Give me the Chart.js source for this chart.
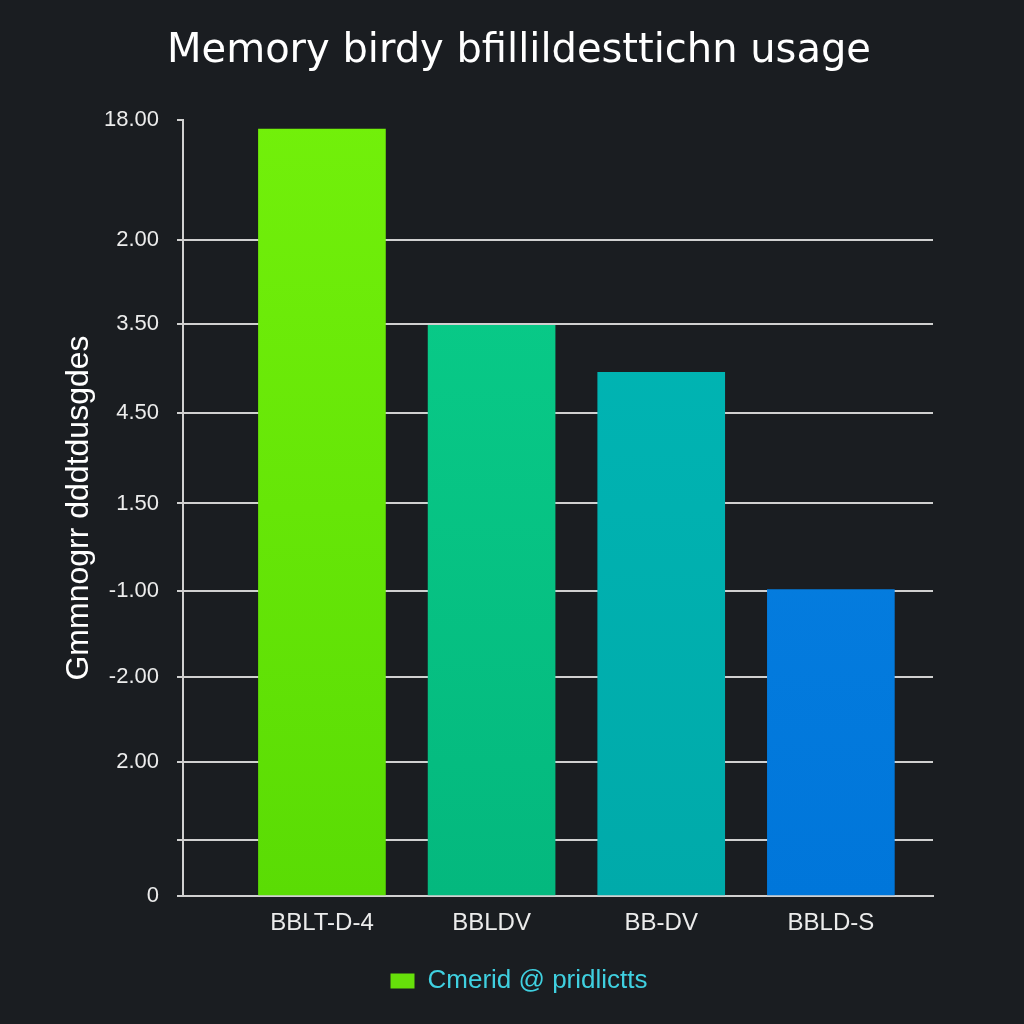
<!DOCTYPE html>
<html>
<head>
<meta charset="utf-8">
<script src="https://cdn.jsdelivr.net/npm/chart.js@4.4.1/dist/chart.umd.min.js"></script>
<style>
  html, body { margin: 0; padding: 0; background: #1a1d21; }
  #wrap { width: 1024px; height: 1024px; }
</style>
</head>
<body>
<div id="wrap"><canvas id="memory-chart" width="1024" height="1024"></canvas></div>
<script>
// Categories on the x axis
const categories = ["BBLT-D-4", "BBLDV", "BB-DV", "BBLD-S"];

// Bar heights, in axis units
const values = [766, 570, 523, 306];

// Tick positions on the y axis and the labels printed at them
const yTickValues = [0, 56, 134, 219, 305, 392, 482, 571, 655, 775];
const yTickLabels = ["0", "", "2.00", "-2.00", "-1.00", "1.50", "4.50", "3.50", "2.00", "18.00"];

// Gradient colours for each bar (top, bottom)
const barTopColors = ["#72f00a", "#0acf8a", "#00b8b6", "#0a84e4"];
const barBottomColors = ["#5adc04", "#04b87e", "#00aaaa", "#0076da"];

const gridColor = "#d0d0d0";
const textColor = "#ececec";

// Bar fill with a vertical gradient
function barFill(ctx) {
  const i = ctx.dataIndex;
  const area = ctx.chart.chartArea;
  if (i === undefined) return barTopColors[0];
  if (!area) return barTopColors[i];
  const g = ctx.chart.ctx.createLinearGradient(0, area.top, 0, area.bottom);
  g.addColorStop(0, barTopColors[i]);
  g.addColorStop(1, barBottomColors[i]);
  return g;
}

const dataBarChart = {
  datasets: [
    {
      label: "Cmerid @ pridlictts",
      data: values.map(function (v, i) {
        return { x: i, y: v };
      }),
      backgroundColor: barFill,
      borderWidth: 0,
      barThickness: 127,
    },
  ],
};

const configBarChart = {
  type: "bar",
  data: dataBarChart,
  options: {
    responsive: false,
    animation: false,
    layout: {
      padding: { left: 105, right: 91, top: 0, bottom: 20 },
    },
    plugins: {
      title: {
        display: true,
        text: "Memory birdy bfillildesttichn usage",
        color: "#ffffff",
        font: { family: "DejaVu Sans", size: 40, weight: "normal" },
        padding: { top: 28, bottom: 44 },
      },
      legend: {
        display: true,
        position: "bottom",
        labels: {
          color: "#3fd0e0",
          font: { family: "Liberation Sans", size: 26 },
          boxWidth: 24,
          boxHeight: 15,
          padding: 10,
          generateLabels: function () {
            return [
              {
                text: "Cmerid @ pridlictts",
                fillStyle: "#66e00a",
                strokeStyle: "#66e00a",
                lineWidth: 0,
                fontColor: "#3fd0e0",
                datasetIndex: 0,
              },
            ];
          },
        },
      },
      tooltip: { enabled: false },
    },
    scales: {
      x: {
        type: "linear",
        offset: false,
        min: -0.819,
        max: 3.602,
        grid: { display: false },
        border: { display: true, color: gridColor, width: 2 },
        afterBuildTicks: function (scale) {
          scale.ticks = categories.map(function (c, i) {
            return { value: i };
          });
        },
        afterFit: function (scale) {
          scale.height = 62;
        },
        ticks: {
          color: textColor,
          font: { family: "Liberation Sans", size: 24 },
          padding: 5,
          maxRotation: 0,
          callback: function (v) {
            return categories[v];
          },
        },
      },
      y: {
        min: 0,
        max: 775,
        afterBuildTicks: function (scale) {
          scale.ticks = yTickValues.map(function (v) {
            return { value: v };
          });
        },
        afterFit: function (scale) {
          scale.width = 78;
        },
        grid: {
          color: function (ctx) {
            return ctx.tick && ctx.tick.value === 775 ? "rgba(0,0,0,0)" : gridColor;
          },
          tickColor: gridColor,
          lineWidth: 2,
          tickLength: 6,
        },
        border: { display: true, color: gridColor, width: 2 },
        ticks: {
          color: textColor,
          font: { family: "Liberation Sans", size: 22 },
          padding: 18,
          callback: function (v) {
            return yTickLabels[yTickValues.indexOf(v)];
          },
        },
        title: {
          display: true,
          text: "Gmmnogrr dddtdusgdes",
          color: "#ffffff",
          font: { family: "Liberation Sans", size: 32 },
          padding: { top: -45, bottom: 0 },
        },
      },
    },
  },
};

// Instantiate BarChart
let memory_chart = new Chart(document.getElementById("memory-chart"), configBarChart);
</script>
</body>
</html>
